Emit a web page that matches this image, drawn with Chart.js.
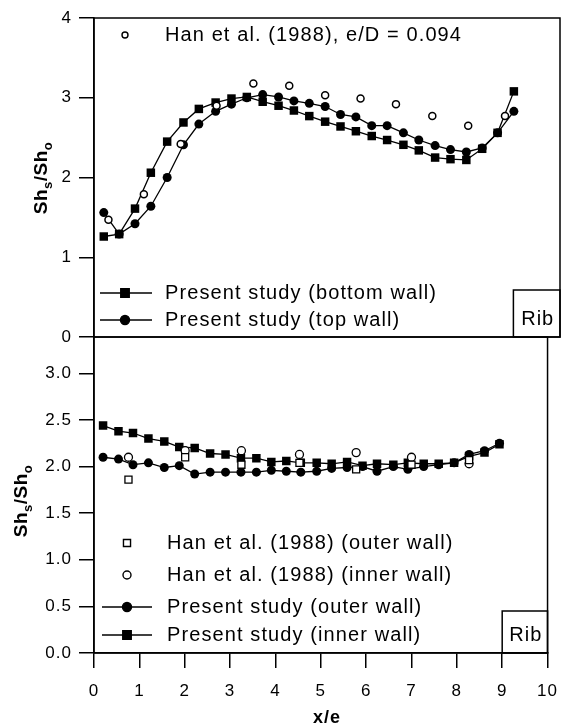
<!DOCTYPE html>
<html>
<head>
<meta charset="utf-8">
<script src="https://cdn.jsdelivr.net/npm/chart.js@4.4.1/dist/chart.umd.min.js"></script>
<style>
  html, body { margin: 0; padding: 0; background: #fff; }
  #wrap { position: relative; width: 570px; height: 727px; }
  canvas { position: absolute; left: 0; }
  #topChart { top: 0; }
  #botChart { top: 310px; }
</style>
</head>
<body>
<div id="wrap">
  <canvas id="botChart" width="570" height="417"></canvas>
  <canvas id="topChart" width="570" height="360"></canvas>
</div>
<script>
const FONT = '"Liberation Sans", Arial, Helvetica, sans-serif';

// ---- top panel (bottom / top wall) ----
const xTop = [0.21, 0.54, 0.88, 1.22, 1.57, 1.92, 2.25, 2.61, 2.95, 3.28, 3.62, 3.96, 4.29, 4.62,
	4.96, 5.29, 5.62, 5.96, 6.29, 6.64, 6.97, 7.32, 7.65, 7.99, 8.33, 8.66, 9.01];
const bottomWall = [1.26, 1.29, 1.61, 2.06, 2.45, 2.69, 2.86, 2.94, 2.99, 3.01, 2.95, 2.90, 2.84, 2.77,
	2.70, 2.64, 2.58, 2.52, 2.47, 2.41, 2.34, 2.25, 2.23, 2.22, 2.36, 2.56, 3.08];
const topWall = [1.56, 1.29, 1.42, 1.64, 2.00, 2.41, 2.67, 2.83, 2.92, 3.00, 3.04, 3.01, 2.96, 2.93,
	2.89, 2.79, 2.76, 2.65, 2.65, 2.56, 2.47, 2.40, 2.35, 2.32, 2.37, 2.56, 2.83];
const xHanTop = [0.31, 1.07, 1.86, 2.63, 3.42, 4.19, 4.96, 5.72, 6.48, 7.26, 8.03, 8.82];
const hanTop = [1.47, 1.79, 2.42, 2.90, 3.18, 3.15, 3.03, 2.99, 2.92, 2.77, 2.65, 2.77];

// ---- bottom panel (outer / inner wall) ----
const xBot = [0.20, 0.54, 0.86, 1.20, 1.55, 1.88, 2.22, 2.56, 2.90, 3.24, 3.58, 3.91, 4.24, 4.56,
	4.91, 5.24, 5.58, 5.92, 6.24, 6.60, 6.92, 7.27, 7.60, 7.94, 8.27, 8.61, 8.94];
const outerWall = [2.10, 2.08, 2.02, 2.04, 1.99, 2.01, 1.92, 1.94, 1.94, 1.94, 1.94, 1.96, 1.95, 1.94,
	1.95, 1.98, 1.99, 2.00, 1.95, 2.00, 1.97, 2.00, 2.02, 2.04, 2.13, 2.17, 2.25];
const innerWall = [2.44, 2.38, 2.36, 2.30, 2.27, 2.21, 2.20, 2.14, 2.13, 2.09, 2.09, 2.05, 2.06, 2.04,
	2.04, 2.03, 2.05, 2.01, 2.03, 2.02, 2.04, 2.03, 2.03, 2.04, 2.11, 2.15, 2.24];
const xHanBot = [0.76, 2.01, 3.25, 4.53, 5.78, 7.00, 8.27];
const hanOuter = [1.86, 2.10, 2.02, 2.04, 1.97, 2.02, 2.07];
const hanInner = [2.10, 2.17, 2.17, 2.13, 2.15, 2.10, 2.03];

const xTicks = [0, 1, 2, 3, 4, 5, 6, 7, 8, 9, 10];

const toPoints = (xs, ys) => xs.map((x, i) => ({ x: x, y: ys[i] }));

// draws a marker like chart.js does, for the legend rows
const drawMarker = (ctx, style, r, filled, x, y) => {
	ctx.save();
	ctx.lineWidth = 1.4;
	ctx.strokeStyle = '#000';
	ctx.fillStyle = filled ? '#000' : '#fff';
	ctx.beginPath();
	if (style === 'rect') {
		const s = Math.SQRT1_2 * r;
		ctx.rect(x - s, y - s, 2 * s, 2 * s);
	} else {
		ctx.arc(x, y, r, 0, Math.PI * 2);
	}
	ctx.fill();
	ctx.stroke();
	ctx.restore();
};

// Sh_s/Sh_o, rotated, with subscripts
const drawShTitle = (ctx, cx, cy) => {
	const big = 'bold 19px ' + FONT;
	const small = 'bold 13px ' + FONT;
	const parts = [['Sh', big, 0], ['s', small, 5], ['/Sh', big, 0], ['o', small, 5]];
	ctx.save();
	ctx.translate(cx, cy);
	ctx.rotate(-Math.PI / 2);
	ctx.letterSpacing = '0.5px';
	let total = 0;
	parts.forEach((p) => { ctx.font = p[1]; total += ctx.measureText(p[0]).width; });
	let x = -total / 2;
	ctx.fillStyle = '#000';
	ctx.textBaseline = 'alphabetic';
	parts.forEach((p) => {
		ctx.font = p[1];
		ctx.fillText(p[0], x, 7 + p[2]);
		x += ctx.measureText(p[0]).width;
	});
	ctx.restore();
};

const panelDeco = {
	id: 'panelDeco',
	beforeDraw(chart) {
		// scanned Helvetica runs a bit wider than Liberation Sans
		chart.ctx.letterSpacing = '1px';
	},
	afterDraw(chart, args, opts) {
		const ctx = chart.ctx;
		const area = chart.chartArea;
		ctx.save();
		ctx.strokeStyle = '#000';
		ctx.lineWidth = 1.5;
		ctx.strokeRect(area.left, area.top, area.right - area.left, area.bottom - area.top);

		// Rib box
		const xs = chart.scales.x;
		const ribLeft = xs.getPixelForValue(9);
		ctx.strokeRect(ribLeft, area.bottom - opts.ribHeight, area.right - ribLeft, opts.ribHeight);
		ctx.fillStyle = '#000';
		ctx.letterSpacing = '1px';
		ctx.font = '20px ' + FONT;
		ctx.textAlign = 'center';
		ctx.textBaseline = 'middle';
		ctx.fillText('Rib', (ribLeft + area.right) / 2 + 1, area.bottom - 18);

		// legend rows
		ctx.textAlign = 'left';
		ctx.letterSpacing = '1.1px';
		opts.legend.forEach((row) => {
			if (row.line) {
				ctx.beginPath();
				ctx.lineWidth = 1.3;
				ctx.moveTo(opts.lineFrom, row.y);
				ctx.lineTo(opts.lineTo, row.y);
				ctx.stroke();
			}
			drawMarker(ctx, row.style, row.r, row.filled, opts.markerX, row.y);
			ctx.fillStyle = '#000';
			ctx.font = '20px ' + FONT;
			ctx.fillText(row.text, opts.textX, row.y);
		});

		drawShTitle(ctx, opts.titleX, opts.titleY);

		if (opts.xTitle) {
			ctx.font = 'bold 18px ' + FONT;
			ctx.letterSpacing = '1px';
			ctx.textAlign = 'center';
			ctx.textBaseline = 'middle';
			ctx.fillText('x/e', opts.xTitle.x, opts.xTitle.y);
		}
		ctx.restore();
	},
};

const yAxisBase = (min, max, step, fmt) => ({
	min: min,
	max: max,
	afterFit: (scale) => { scale.width = 94; },
	border: { display: true, color: '#000', width: 1.5 },
	grid: { drawOnChartArea: false, drawTicks: true, tickLength: 15, color: '#000', lineWidth: 1.5 },
	ticks: {
		stepSize: step,
		includeBounds: false,
		color: '#000',
		padding: 7,
		font: { family: FONT, size: 17 },
		callback: fmt,
	},
});

// top chart
new Chart(document.getElementById('topChart'), {
	type: 'scatter',
	data: {
		datasets: [
			{
				label: 'Han et al. (1988), e/D = 0.094',
				data: toPoints(xHanTop, hanTop),
				pointStyle: 'circle', pointRadius: 3.5, borderWidth: 1.5,
				borderColor: '#000', backgroundColor: '#fff', order: 0,
			},
			{
				label: 'Present study (bottom wall)',
				data: toPoints(xTop, bottomWall),
				showLine: true, borderWidth: 1.3,
				pointStyle: 'rect', pointRadius: 6, pointBorderWidth: 0,
				borderColor: '#000', backgroundColor: '#000', order: 2,
			},
			{
				label: 'Present study (top wall)',
				data: toPoints(xTop, topWall),
				showLine: true, borderWidth: 1.3,
				pointStyle: 'circle', pointRadius: 4.5, pointBorderWidth: 0,
				borderColor: '#000', backgroundColor: '#000', order: 1,
			},
		],
	},
	options: {
		responsive: false,
		animation: false,
		layout: { padding: { left: 0, right: 10, top: 18, bottom: 23 } },
		scales: {
			x: { type: 'linear', min: 0, max: 10, display: false },
			y: yAxisBase(0, 4, 1, (v) => String(v)),
		},
		plugins: {
			legend: { display: false },
			tooltip: { enabled: false },
			panelDeco: {
				ribHeight: 47,
				markerX: 125, lineFrom: 100, lineTo: 152, textX: 165,
				titleX: 40, titleY: 178,
				legend: [
					{ text: 'Han et al. (1988), e/D = 0.094', style: 'circle', r: 3, filled: false, line: false, y: 35 },
					{ text: 'Present study (bottom wall)', style: 'rect', r: 6, filled: true, line: true, y: 293 },
					{ text: 'Present study (top wall)', style: 'circle', r: 4.5, filled: true, line: true, y: 320 },
				],
			},
		},
	},
	plugins: [panelDeco],
});

// bottom chart
new Chart(document.getElementById('botChart'), {
	type: 'scatter',
	data: {
		datasets: [
			{
				label: 'Han et al. (1988) (outer wall)',
				data: toPoints(xHanBot, hanOuter),
				pointStyle: 'rect', pointRadius: 5, borderWidth: 1.3,
				borderColor: '#000', backgroundColor: '#fff', order: 0,
			},
			{
				label: 'Han et al. (1988) (inner wall)',
				data: toPoints(xHanBot, hanInner),
				pointStyle: 'circle', pointRadius: 4, borderWidth: 1.3,
				borderColor: '#000', backgroundColor: '#fff', order: 0,
			},
			{
				label: 'Present study (outer wall)',
				data: toPoints(xBot, outerWall),
				showLine: true, borderWidth: 1.3,
				pointStyle: 'circle', pointRadius: 4.5, pointBorderWidth: 0,
				borderColor: '#000', backgroundColor: '#000', order: 1,
			},
			{
				label: 'Present study (inner wall)',
				data: toPoints(xBot, innerWall),
				showLine: true, borderWidth: 1.3,
				pointStyle: 'rect', pointRadius: 6, pointBorderWidth: 0,
				borderColor: '#000', backgroundColor: '#000', order: 2,
			},
		],
	},
	options: {
		responsive: false,
		animation: false,
		layout: { padding: { left: 0, right: 10, top: 27, bottom: 0 } },
		scales: {
			x: {
				type: 'linear', min: 0, max: 10,
				afterFit: (scale) => { scale.height = 74; },
				afterBuildTicks: (scale) => { scale.ticks = xTicks.map((v) => ({ value: v })); },
				border: { display: true, color: '#000', width: 1.5 },
				grid: { drawOnChartArea: false, drawTicks: true, tickLength: 15, color: '#000', lineWidth: 1.5 },
				ticks: { color: '#000', padding: 13, maxRotation: 0, font: { family: FONT, size: 17 } },
			},
			y: yAxisBase(0, 3.39, 0.5, (v) => v.toFixed(1)),
		},
		plugins: {
			legend: { display: false },
			tooltip: { enabled: false },
			panelDeco: {
				ribHeight: 42,
				markerX: 127, lineFrom: 102, lineTo: 152, textX: 167,
				titleX: 20, titleY: 191,
				xTitle: { x: 327, y: 408 },
				legend: [
					{ text: 'Han et al. (1988) (outer wall)', style: 'rect', r: 5, filled: false, line: false, y: 233 },
					{ text: 'Han et al. (1988) (inner wall)', style: 'circle', r: 4, filled: false, line: false, y: 265 },
					{ text: 'Present study (outer wall)', style: 'circle', r: 4.5, filled: true, line: true, y: 297 },
					{ text: 'Present study (inner wall)', style: 'rect', r: 6, filled: true, line: true, y: 325 },
				],
			},
		},
	},
	plugins: [panelDeco],
});
</script>
</body>
</html>
